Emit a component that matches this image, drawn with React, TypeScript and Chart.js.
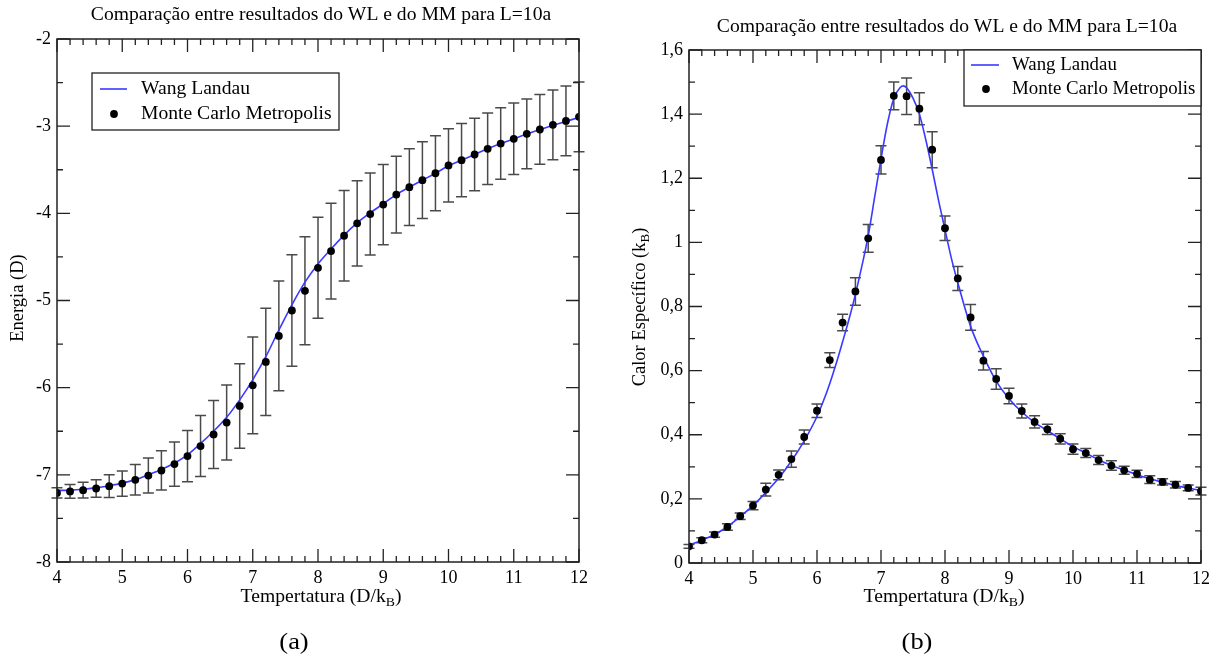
import React, { useEffect, useRef } from 'react';
import { Chart, registerables } from 'chart.js';

Chart.register(...registerables);

const FONT = '"Liberation Serif", "Times New Roman", serif';

// ---------- data ----------
const temps = [4, 4.2, 4.4, 4.6, 4.8, 5, 5.2, 5.4, 5.6, 5.8, 6, 6.2, 6.4, 6.6, 6.8, 7, 7.2, 7.4, 7.6, 7.8, 8, 8.2, 8.4, 8.6, 8.8, 9, 9.2, 9.4, 9.6, 9.8, 10, 10.2, 10.4, 10.6, 10.8, 11, 11.2, 11.4, 11.6, 11.8, 12];

const energyMM = [-7.207, -7.19, -7.176, -7.157, -7.13, -7.1, -7.057, -7.008, -6.95, -6.877, -6.785, -6.67, -6.536, -6.4, -6.21, -5.973, -5.705, -5.406, -5.115, -4.889, -4.625, -4.433, -4.257, -4.115, -4.008, -3.9, -3.785, -3.7, -3.62, -3.54, -3.45, -3.39, -3.325, -3.26, -3.2, -3.145, -3.088, -3.038, -2.985, -2.94, -2.893];
const energyErr = [0.06, 0.08, 0.09, 0.1, 0.13, 0.145, 0.175, 0.2, 0.225, 0.255, 0.295, 0.35, 0.39, 0.43, 0.485, 0.555, 0.615, 0.63, 0.64, 0.62, 0.58, 0.55, 0.52, 0.49, 0.47, 0.46, 0.44, 0.44, 0.44, 0.43, 0.42, 0.42, 0.415, 0.41, 0.41, 0.41, 0.4, 0.4, 0.4, 0.4, 0.4];
const energyWL = [-7.18, -7.175, -7.165, -7.15, -7.125, -7.095, -7.055, -7.0, -6.94, -6.865, -6.77, -6.64, -6.5, -6.34, -6.14, -5.91, -5.645, -5.34, -5.05, -4.79, -4.58, -4.41, -4.25, -4.11, -3.995, -3.89, -3.785, -3.7, -3.62, -3.54, -3.455, -3.39, -3.325, -3.26, -3.2, -3.145, -3.09, -3.04, -2.99, -2.945, -2.9];

const heatMM = [0.052, 0.071, 0.0885, 0.1125, 0.146, 0.179, 0.229, 0.275, 0.324, 0.393, 0.475, 0.633, 0.75, 0.847, 1.0125, 1.257, 1.457, 1.456, 1.417, 1.289, 1.044, 0.8875, 0.766, 0.631, 0.574, 0.521, 0.474, 0.44, 0.417, 0.3875, 0.355, 0.343, 0.321, 0.304, 0.289, 0.278, 0.26, 0.253, 0.244, 0.234, 0.224];
const heatErr = [0.006, 0.008, 0.008, 0.01, 0.01, 0.013, 0.02, 0.015, 0.025, 0.022, 0.021, 0.023, 0.026, 0.043, 0.043, 0.044, 0.043, 0.057, 0.05, 0.056, 0.038, 0.0375, 0.04, 0.029, 0.032, 0.024, 0.022, 0.019, 0.016, 0.016, 0.016, 0.014, 0.014, 0.015, 0.0125, 0.011, 0.012, 0.01, 0.01, 0.009, 0.012];
const heatWLTemps = [4, 4.2, 4.4, 4.6, 4.8, 5, 5.2, 5.4, 5.6, 5.8, 6, 6.1, 6.2, 6.3, 6.4, 6.5, 6.6, 6.7, 6.8, 6.9, 7, 7.1, 7.2, 7.3, 7.35, 7.4, 7.5, 7.6, 7.7, 7.8, 7.9, 8, 8.1, 8.2, 8.4, 8.6, 8.8, 9, 9.2, 9.4, 9.6, 9.8, 10, 10.2, 10.4, 10.6, 10.8, 11, 11.2, 11.4, 11.6, 11.8, 12];
const heatWL = [0.056, 0.071, 0.089, 0.113, 0.145, 0.179, 0.22, 0.264, 0.318, 0.381, 0.457, 0.505, 0.56, 0.622, 0.69, 0.76, 0.838, 0.925, 1.02, 1.14, 1.26, 1.37, 1.449, 1.483, 1.488, 1.482, 1.45, 1.4, 1.32, 1.228, 1.13, 1.04, 0.95, 0.874, 0.738, 0.645, 0.567, 0.5125, 0.471, 0.4385, 0.4125, 0.3875, 0.363, 0.343, 0.322, 0.304, 0.29, 0.275, 0.2625, 0.252, 0.2417, 0.234, 0.226];

const titleText = 'Comparação entre resultados do WL e do MM para L=10a';
const xTitle = ['Tempertatura (D/k', 'B', ')'];
const yTitleA = ['Energia (D)', '', ''];
const yTitleB = ['Calor Específico (k', 'B', ')'];
const legendLabels = ['Wang Landau', 'Monte Carlo Metropolis'];
const xTicksMajor = 1;
const xTicksMinor = 0.2;

const SX = 1.06; // horizontal stretch of text as seen in the reference

type Layout = {
  width: number;
  yWidth: number;
  top: number;
  padRight: number;
  padBottom: number;
  yMin: number;
  yMax: number;
  yMajor: number;
  yMinor: number;
  title: [number, number];
  xt: [number, number];
  yt: [number, number];
  ytParts: string[];
  legend: { l: number; t: number; r: number; b: number; lx1: number; lx2: number; ly: number; dx: number; dy: number; tx: number; sx: number };
  caption: [string, number, number];
  comma: boolean;
};

function drawSubText(ctx: CanvasRenderingContext2D, parts: string[], cx: number, cy: number, size: number, sx: number) {
  const big = `${size}px ${FONT}`;
  const small = `${Math.round(size * 0.68)}px ${FONT}`;
  ctx.save();
  ctx.translate(cx, cy);
  ctx.scale(sx, 1);
  ctx.font = big;
  const w0 = ctx.measureText(parts[0]).width;
  const w2 = ctx.measureText(parts[2]).width;
  ctx.font = small;
  const w1 = ctx.measureText(parts[1]).width;
  const total = w0 + w1 + w2;
  let x = -total / 2;
  ctx.textBaseline = 'middle';
  ctx.textAlign = 'left';
  ctx.font = big;
  ctx.fillText(parts[0], x, 0);
  x += w0;
  ctx.font = small;
  ctx.fillText(parts[1], x, size * 0.32);
  x += w1;
  ctx.font = big;
  ctx.fillText(parts[2], x, 0);
  ctx.restore();
}

function drawStretched(ctx: CanvasRenderingContext2D, text: string, x: number, y: number, font: string, align: CanvasTextAlign, sx: number) {
  ctx.save();
  ctx.translate(x, y);
  ctx.scale(sx, 1);
  ctx.font = font;
  ctx.textAlign = align;
  ctx.textBaseline = 'middle';
  ctx.fillText(text, 0, 0);
  ctx.restore();
}

function makeConfig(L: Layout, xs: number[], ys: number[], errs: number[], wlx: number[], wly: number[]): any {
  const errPlugin = {
    id: 'errbars',
    beforeDatasetsDraw(chart: any) {
      const ctx = chart.ctx as CanvasRenderingContext2D;
      const sx = chart.scales.x;
      const sy = chart.scales.y;
      ctx.save();
      ctx.strokeStyle = '#4a4a4a';
      ctx.lineWidth = 1.5;
      for (let i = 0; i < xs.length; i++) {
        const px = sx.getPixelForValue(xs[i]);
        const y1 = sy.getPixelForValue(ys[i] + errs[i]);
        const y2 = sy.getPixelForValue(ys[i] - errs[i]);
        ctx.beginPath();
        ctx.moveTo(px, y1);
        ctx.lineTo(px, y2);
        ctx.moveTo(px - 5.5, y1);
        ctx.lineTo(px + 5.5, y1);
        ctx.moveTo(px - 5.5, y2);
        ctx.lineTo(px + 5.5, y2);
        ctx.stroke();
      }
      ctx.restore();
    },
  };
  const framePlugin = {
    id: 'frame',
    afterDraw(chart: any) {
      const ctx = chart.ctx as CanvasRenderingContext2D;
      const a = chart.chartArea;
      const sx = chart.scales.x;
      const sy = chart.scales.y;
      ctx.save();
      ctx.strokeStyle = '#222';
      ctx.lineWidth = 1.5;
      ctx.strokeRect(a.left, a.top, a.right - a.left, a.bottom - a.top);
      ctx.lineWidth = 1.3;
      ctx.beginPath();
      const nx = Math.round((12 - 4) / xTicksMinor);
      for (let k = 0; k <= nx; k++) {
        const v = 4 + k * xTicksMinor;
        const major = Math.abs(v / xTicksMajor - Math.round(v / xTicksMajor)) < 1e-6;
        const len = major ? 13 : 6;
        const px = sx.getPixelForValue(v);
        ctx.moveTo(px, a.bottom);
        ctx.lineTo(px, a.bottom - len);
        ctx.moveTo(px, a.top);
        ctx.lineTo(px, a.top + len);
      }
      const ny = Math.round((L.yMax - L.yMin) / L.yMinor);
      for (let k = 0; k <= ny; k++) {
        const v = L.yMin + k * L.yMinor;
        const r = (v - L.yMin) / L.yMajor;
        const major = Math.abs(r - Math.round(r)) < 1e-6;
        const len = major ? 13 : 6;
        const py = sy.getPixelForValue(v);
        ctx.moveTo(a.left, py);
        ctx.lineTo(a.left + len, py);
        ctx.moveTo(a.right, py);
        ctx.lineTo(a.right - len, py);
      }
      ctx.stroke();

      // legend
      const g = L.legend;
      ctx.fillStyle = '#fff';
      ctx.fillRect(g.l, g.t, g.r - g.l, g.b - g.t);
      ctx.strokeStyle = '#222';
      ctx.lineWidth = 1.3;
      ctx.strokeRect(g.l, g.t, g.r - g.l, g.b - g.t);
      ctx.strokeStyle = '#3a3aff';
      ctx.lineWidth = 1.6;
      ctx.beginPath();
      ctx.moveTo(g.lx1, g.ly);
      ctx.lineTo(g.lx2, g.ly);
      ctx.stroke();
      ctx.fillStyle = '#000';
      ctx.beginPath();
      ctx.arc(g.dx, g.dy, 3.9, 0, Math.PI * 2);
      ctx.fill();
      const f185 = `18.5px ${FONT}`;
      drawStretched(ctx, legendLabels[0], g.tx, g.ly, f185, 'left', g.sx);
      drawStretched(ctx, legendLabels[1], g.tx, g.dy, f185, 'left', g.sx);

      // title
      drawStretched(ctx, titleText, L.title[0], L.title[1], f185, 'center', SX);
      // x title
      drawSubText(ctx, xTitle, L.xt[0], L.xt[1], 18.5, SX);
      // y title
      ctx.save();
      ctx.translate(L.yt[0], L.yt[1]);
      ctx.rotate(-Math.PI / 2);
      drawSubText(ctx, L.ytParts, 0, 0, 18.5, 1);
      ctx.restore();
      // caption
      drawStretched(ctx, L.caption[0], L.caption[1], L.caption[2], `23px ${FONT}`, 'center', 1.15);
      ctx.restore();
    },
  };
  return {
    type: 'scatter',
    data: {
      datasets: [
        {
          label: legendLabels[1],
          data: xs.map((x, i) => ({ x, y: ys[i] })),
          pointRadius: 3.9,
          pointBackgroundColor: '#000',
          pointBorderWidth: 0,
          showLine: false,
          order: 0,
        },
        {
          label: legendLabels[0],
          data: wlx.map((x, i) => ({ x, y: wly[i] })),
          showLine: true,
          pointRadius: 0,
          borderColor: '#3a3aff',
          borderWidth: 1.6,
          cubicInterpolationMode: 'monotone',
          order: 1,
        },
      ],
    },
    options: {
      responsive: false,
      animation: false,
      devicePixelRatio: 1,
      layout: { padding: { left: 0, top: L.top, right: L.padRight, bottom: L.padBottom } },
      plugins: { legend: { display: false }, title: { display: false }, tooltip: { enabled: false } },
      scales: {
        x: {
          type: 'linear',
          min: 4,
          max: 12,
          grid: { display: false, drawTicks: false },
          border: { display: false },
          ticks: { stepSize: xTicksMajor, padding: 5, color: '#000', font: { family: FONT, size: 18 }, maxRotation: 0, autoSkip: false },
          afterFit: (s: any) => {
            s.height = 40;
          },
        },
        y: {
          type: 'linear',
          min: L.yMin,
          max: L.yMax,
          grid: { display: false, drawTicks: false },
          border: { display: false },
          ticks: {
            stepSize: L.yMajor,
            padding: 6,
            color: '#000',
            font: { family: FONT, size: 18 },
            autoSkip: false,
            callback: (v: number) => {
              const r = Math.round(v * 10) / 10;
              if (Math.abs(r % 1) < 1e-9) return String(Math.round(r));
              const s = r.toFixed(1);
              return L.comma ? s.replace('.', ',') : s;
            },
          },
          afterFit: (s: any) => {
            s.width = L.yWidth;
          },
        },
      },
    },
    plugins: [errPlugin, framePlugin],
  };
}

const layoutA: Layout = {
  width: 612,
  yWidth: 57,
  top: 39,
  padRight: 612 - 579,
  padBottom: 661 - 562 - 40,
  yMin: -8,
  yMax: -2,
  yMajor: 1,
  yMinor: 0.5,
  title: [321, 15],
  xt: [321, 597],
  yt: [18, 298],
  ytParts: yTitleA,
  legend: { l: 92, t: 73, r: 339, b: 130, lx1: 100, lx2: 127, ly: 89, dx: 114, dy: 114, tx: 141, sx: SX },
  caption: ['(a)', 294, 643],
  comma: false,
};

const layoutB: Layout = {
  width: 613,
  yWidth: 77,
  top: 50,
  padRight: 613 - 589,
  padBottom: 661 - 563 - 40,
  yMin: 0,
  yMax: 1.6,
  yMajor: 0.2,
  yMinor: 0.1,
  title: [335, 27],
  xt: [332, 597],
  yt: [28, 307],
  ytParts: yTitleB,
  legend: { l: 352, t: 50, r: 589, b: 106, lx1: 359, lx2: 387, ly: 65, dx: 374, dy: 89, tx: 400, sx: 1.02 },
  caption: ['(b)', 305, 643],
  comma: true,
};

function ChartCanvas({ layout, xs, ys, errs, wlx, wly, left }: any) {
  const ref = useRef<HTMLCanvasElement | null>(null);
  useEffect(() => {
    if (!ref.current) return;
    const chart = new Chart(ref.current, makeConfig(layout, xs, ys, errs, wlx, wly));
    return () => chart.destroy();
  }, []);
  return (
    <canvas
      ref={ref}
      width={layout.width}
      height={661}
      style={{ position: 'absolute', left, top: 0, width: layout.width, height: 661 }}
    />
  );
}

export default function App() {
  return (
    <div style={{ position: 'fixed', left: 0, top: 0, width: 1225, height: 661, background: '#fff' }}>
      <ChartCanvas layout={layoutA} xs={temps} ys={energyMM} errs={energyErr} wlx={temps} wly={energyWL} left={0} />
      <ChartCanvas layout={layoutB} xs={temps} ys={heatMM} errs={heatErr} wlx={heatWLTemps} wly={heatWL} left={612} />
    </div>
  );
}
